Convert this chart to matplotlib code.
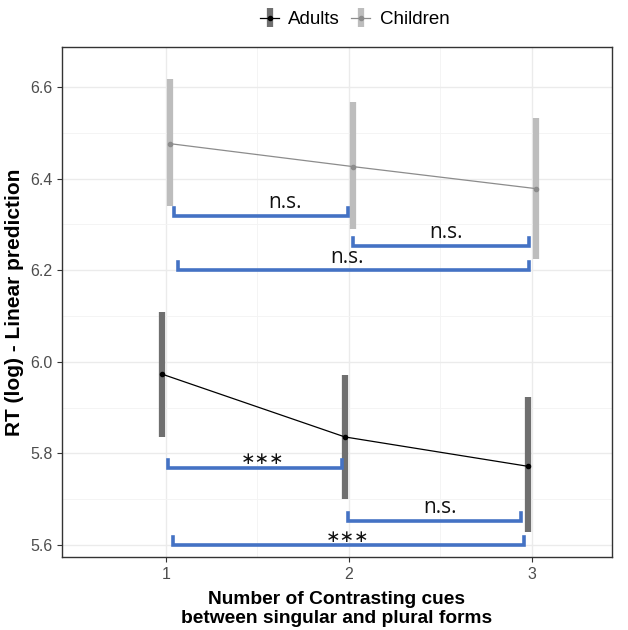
import matplotlib
matplotlib.use("Agg")
import matplotlib.pyplot as plt
import numpy as np

# Data
cues = [1, 2, 3]
adults_mean = [5.973, 5.836, 5.772]
adults_lo = [5.836, 5.700, 5.628]
adults_hi = [6.109, 5.971, 5.923]
children_mean = [6.476, 6.426, 6.378]
children_lo = [6.340, 6.290, 6.224]
children_hi = [6.618, 6.566, 6.533]
x_ticks = [1, 2, 3]
y_ticks = [5.6, 5.8, 6.0, 6.2, 6.4, 6.6]

# Significance brackets
brackets_x0 = [1.045, 2.025, 1.065, 1.010, 1.997, 1.038]
brackets_x1 = [1.997, 2.984, 2.984, 1.964, 2.940, 2.960]
brackets_y = [6.318, 6.253, 6.200, 5.768, 5.652, 5.600]
brackets_lab = ["n.s.", "n.s.", "n.s.", "***", "n.s.", "***"]
lab_x = [1.65, 2.53, 1.99, 1.53, 2.50, 1.99]
lab_y = [6.325, 6.260, 6.205, 5.775, 5.660, 5.604]

fig = plt.figure(figsize=(6.28, 6.30), dpi=100)
ax = fig.add_axes([0.0987, 0.1159, 0.8758, 0.8095])

ax.set_xlim(0.43, 3.44)
ax.set_ylim(5.574, 6.687)

ax.set_yticks(y_ticks)
ax.set_yticks([5.7, 5.9, 6.1, 6.3, 6.5], minor=True)
ax.set_xticks(x_ticks)
ax.set_xticks([1.5, 2.5], minor=True)
ax.grid(True, which="major", color="#ebebeb", lw=1.0)
ax.grid(True, which="minor", color="#f3f3f3", lw=0.6)
ax.set_axisbelow(True)

dodge = 0.022
xa = np.array(cues) - dodge
xc = np.array(cues) + dodge
am = np.array(adults_mean)
cm = np.array(children_mean)

ea = ax.errorbar(xa, am, yerr=[am - np.array(adults_lo), np.array(adults_hi) - am],
                 fmt="-o", color="black", ms=3, lw=0.9, ecolor="#6f6f6f",
                 elinewidth=4.5, capsize=0, label="Adults", zorder=3)
ec = ax.errorbar(xc, cm, yerr=[cm - np.array(children_lo), np.array(children_hi) - cm],
                 fmt="-o", color="#8c8c8c", ms=3, lw=0.9, ecolor="#bdbdbd",
                 elinewidth=4.5, capsize=0, label="Children", zorder=3)

blue = "#4472C4"
tick_h = 0.018
for x0, x1, y, lab, lx, ly in zip(brackets_x0, brackets_x1, brackets_y,
                                  brackets_lab, lab_x, lab_y):
    ax.plot([x0, x0, x1, x1], [y + tick_h, y, y, y + tick_h], color=blue,
            lw=2.6, solid_joinstyle="miter", zorder=4)
    if lab == "***":
        ax.text(lx, ly - 0.006, "∗∗∗", ha="center", va="bottom", fontsize=12.5,
                family="DejaVu Sans", color="#111111", zorder=5)
    else:
        ax.text(lx, ly, lab, ha="center", va="bottom", fontsize=15,
                family="Open Sans", color="#111111", zorder=5)

for s in ax.spines.values():
    s.set_color("#333333")
    s.set_linewidth(1.0)

ax.tick_params(axis="both", which="major", colors="#333333", length=3.5,
               labelcolor="#4d4d4d", labelsize=11.5)
ax.tick_params(axis="both", which="minor", length=0)
ax.set_yticklabels([f"{v:.1f}" for v in y_ticks])
ax.set_xticklabels([str(v) for v in x_ticks])

ax.set_ylabel("RT (log) - Linear prediction", fontsize=15, fontweight="bold",
              family="Liberation Sans", labelpad=4)
ax.set_xlabel("Number of Contrasting cues\nbetween singular and plural forms",
              fontsize=13.8, fontweight="bold", family="Liberation Sans",
              linespacing=1.1, labelpad=7)
for t in ax.get_xticklabels() + ax.get_yticklabels():
    t.set_family("Liberation Sans")

leg = fig.legend(handles=[ea, ec], labels=["Adults", "Children"],
                 loc="center", bbox_to_anchor=(0.565, 0.969), ncol=2,
                 frameon=False, handlelength=1.0,
                 handletextpad=0.5, columnspacing=0.6,
                 prop={"family": "Liberation Sans", "size": 13.5})

fig.savefig("out.png", dpi=100)
